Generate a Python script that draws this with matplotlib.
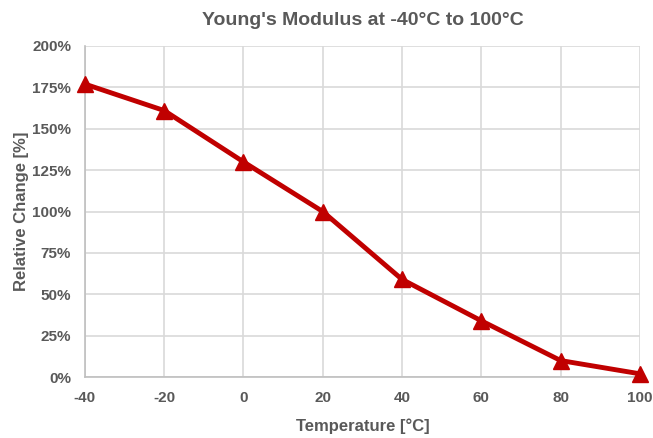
import matplotlib
matplotlib.use('Agg')
import matplotlib.pyplot as plt
from matplotlib.ticker import FuncFormatter

plt.rcParams['font.family'] = ['Liberation Sans', 'DejaVu Sans']
plt.rcParams['font.weight'] = 'bold'
plt.rcParams['axes.unicode_minus'] = False

temperature = [-40, -20, 0, 20, 40, 60, 80, 100]
relative_change = [177, 161, 130, 100, 59, 34, 10, 2]
x_ticks = [-40, -20, 0, 20, 40, 60, 80, 100]
y_ticks = [0, 25, 50, 75, 100, 125, 150, 175, 200]

text_color = '#595959'
grid_color = '#d9d9d9'

fig = plt.figure(figsize=(6.53, 4.38), dpi=100)
ax = fig.add_axes([0.130, 0.139, 0.850, 0.756])

ax.plot(temperature, relative_change, color='#c00000', linewidth=3.5,
        marker='^', markersize=12, clip_on=False, zorder=3)

ax.set_xlim(-40, 100)
ax.set_ylim(0, 200)
ax.set_xticks(x_ticks)
ax.set_yticks(y_ticks)
ax.yaxis.set_major_formatter(FuncFormatter(lambda v, p: f'{v:.0f}%'))

ax.grid(True, color=grid_color, linewidth=1.2)
ax.set_axisbelow(True)
for side in ['top', 'right']:
    ax.spines[side].set_visible(False)
for side in ['left', 'bottom']:
    ax.spines[side].set_color('#bfbfbf')
    ax.spines[side].set_linewidth(1.2)

ax.tick_params(axis='y', length=0, colors=text_color, labelsize=11, pad=10)
ax.tick_params(axis='x', length=0, colors=text_color, labelsize=11, pad=10)
for lbl in ax.get_xticklabels() + ax.get_yticklabels():
    lbl.set_fontweight('bold')

ax.set_xlabel('Temperature [°C]', fontsize=12, color=text_color,
              fontweight='bold', labelpad=10)
ax.set_ylabel('Relative Change [%]', fontsize=12, color=text_color,
              fontweight='bold', labelpad=2)
ax.set_title("Young's Modulus at -40°C to 100°C", fontsize=14,
             color=text_color, fontweight='bold', pad=15)

fig.savefig('out.png', dpi=100)
